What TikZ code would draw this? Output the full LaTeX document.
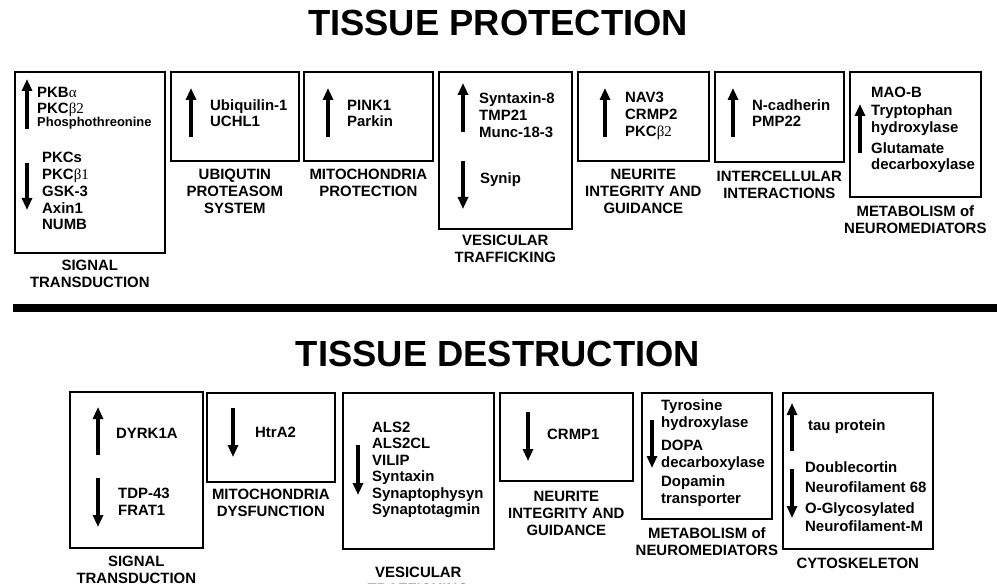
\documentclass[tikz,border=0pt]{standalone}
\usepackage{fontspec}
\setmainfont{Liberation Sans}
\newfontfamily\grkfont{Liberation Serif}
\usetikzlibrary{arrows.meta,positioning}
\newcommand\gk[1]{{\grkfont\mdseries #1}}
\tikzset{
 box/.style={draw,line width=1.7bp,anchor=north west,inner sep=0pt},
 txt/.style={anchor=base west,align=left,inner sep=0pt,font=\fontsize{15}{17}\selectfont\bfseries},
 lbl/.style={align=center,inner sep=0pt,font=\fontsize{15}{17}\selectfont\bfseries},
 ttl/.style={anchor=base,inner sep=0pt,font=\fontsize{36.5}{40}\selectfont\bfseries},
 arr/.style={-{Triangle[width=10bp,length=12bp]},line width=3.4bp},
 sep/.style={line width=7.5bp}}
\begin{document}
\begin{tikzpicture}[x=1bp,y=-1bp]
\useasboundingbox (0,0) rectangle (997,584);

\node[ttl] (prot) at (498,36) {TISSUE PROTECTION};
\node[ttl] (dest) at (498,366) {TISSUE DESTRUCTION};
\draw[sep] (13,308) -- (997,308);

% tissue protection
\node[box,minimum width=150bp,minimum height=181bp] (sigp) at (14,71) {};
\node[box,minimum width=128bp,minimum height=89bp] (ubq) at (170,71) {};
\node[box,minimum width=129bp,minimum height=89bp] (mitp) at (303,71) {};
\node[box,minimum width=133bp,minimum height=157bp] (vesp) at (438,71) {};
\node[box,minimum width=131bp,minimum height=89bp] (neup) at (577,71) {};
\node[box,minimum width=129bp,minimum height=90bp] (intc) at (714,71) {};
\node[box,minimum width=131bp,minimum height=125bp] (metp) at (849,71) {};

% base anchor = last line
\node[txt] (sigpa) at (37,127) {PKB\gk{α}\\[-1bp]PKC\gk{β2}\\[-3bp]{\fontsize{13}{13}\selectfont Phosphothreonine}};
\node[txt] (sigpb) at (42,230) {PKCs\\PKC\gk{β1}\\GSK-3\\Axin1\\NUMB};
\node[txt] (ubqa) at (210,127) {Ubiquilin-1\\UCHL1};
\node[txt] (mitpa) at (347,127) {PINK1\\Parkin};
\node[txt] (vespa) at (479,138) {Syntaxin-8\\[0.5bp]TMP21\\[0.5bp]Munc-18-3};
\node[txt] (vespb) at (480,184) {Synip};
\node[txt] (neupa) at (625,137) {NAV3\\[0.5bp]CRMP2\\[0.5bp]PKC\gk{β2}};
\node[txt] (intca) at (752,127) {N-cadherin\\PMP22};
\node[txt] (metpa) at (871,170) {MAO-B\\[1bp]Tryptophan\\hydroxylase\\[4bp]Glutamate\\decarboxylase};

\draw[arr] (27,129) -- (27,79);
\draw[arr] (27,163) -- (27,210);
\draw[arr] (191,137) -- (191,88);
\draw[arr] (328,137) -- (328,88);
\draw[arr] (463,132) -- (463,83);
\draw[arr] (463,161) -- (463,209);
\draw[arr] (605,137) -- (605,88);
\draw[arr] (733,137) -- (733,88);
\draw[arr] (860,153) -- (860,104);

\node[lbl,below=6bp of sigp] (sigpl) {SIGNAL\\TRANSDUCTION};
\node[lbl,below=7bp of ubq] (ubql) {UBIQUTIN\\PROTEASOM\\SYSTEM};
\node[lbl,below=7bp of mitp] (mitpl) {MITOCHONDRIA\\PROTECTION};
\node[lbl,below=5bp of vesp] (vespl) {VESICULAR\\TRAFFICKING};
\node[lbl,below=7bp of neup] (neupl) {NEURITE\\INTEGRITY AND\\GUIDANCE};
\node[lbl,below=8bp of intc] (intcl) {INTERCELLULAR\\INTERACTIONS};
\node[lbl,below=8bp of metp] (metpl) {METABOLISM of\\NEUROMEDIATORS};

% tissue destruction
\node[box,minimum width=133bp,minimum height=156bp] (sigd) at (69,391) {};
\node[box,minimum width=128bp,minimum height=89bp] (mitd) at (206,392) {};
\node[box,minimum width=151bp,minimum height=156bp] (vesd) at (342,392) {};
\node[box,minimum width=133bp,minimum height=88bp] (neud) at (499,392) {};
\node[box,minimum width=130bp,minimum height=126bp] (metd) at (641,392) {};
\node[box,minimum width=150bp,minimum height=156bp] (cyto) at (782,392) {};

\node[txt] (sigda) at (116,438) {DYRK1A};
\node[txt] (sigdb) at (118,515) {TDP-43\\FRAT1};
\node[txt] (mitda) at (255,437) {HtrA2};
\node[txt] (vesda) at (372,514.5) {ALS2\\[-0.5bp]ALS2CL\\[-0.5bp]VILIP\\[-0.5bp]Syntaxin\\[-0.5bp]Synaptophysyn\\[-0.5bp]Synaptotagmin};
\node[txt] (neuda) at (547,439) {CRMP1};
\node[txt] (metda) at (661,503) {Tyrosine\\hydroxylase\\[6bp]DOPA\\decarboxylase\\[2bp]Dopamin\\transporter};
\node[txt] (cytoa) at (808,430) {tau protein};
\node[txt] (cytob) at (805,531) {Doublecortin\\[3bp]Neurofilament 68\\[4bp]O-Glycosylated\\[1bp]Neurofilament-M};

\draw[arr] (98,455) -- (98,407);
\draw[arr] (98,478) -- (98,527);
\draw[arr] (233,408) -- (233,457);
\draw[arr] (358,445) -- (358,495);
\draw[arr] (528,412) -- (528,461);
\draw[arr] (652,420) -- (652,468);
\draw[arr] (792,451) -- (792,403);
\draw[arr] (792,469) -- (792,518);

\node[lbl,below=7bp of sigd] (sigdl) {SIGNAL\\TRANSDUCTION};
\node[lbl,below=6bp of mitd] (mitdl) {MITOCHONDRIA\\DYSFUNCTION};
\node[lbl,below=17bp of vesd] (vesdl) {VESICULAR\\TRAFFICKING};
\node[lbl,below=9bp of neud] (neudl) {NEURITE\\INTEGRITY AND\\GUIDANCE};
\node[lbl,below=8bp of metd] (metdl) {METABOLISM of\\NEUROMEDIATORS};
\node[lbl,below=8bp of cyto] (cytol) {CYTOSKELETON};
\end{tikzpicture}
\end{document}
